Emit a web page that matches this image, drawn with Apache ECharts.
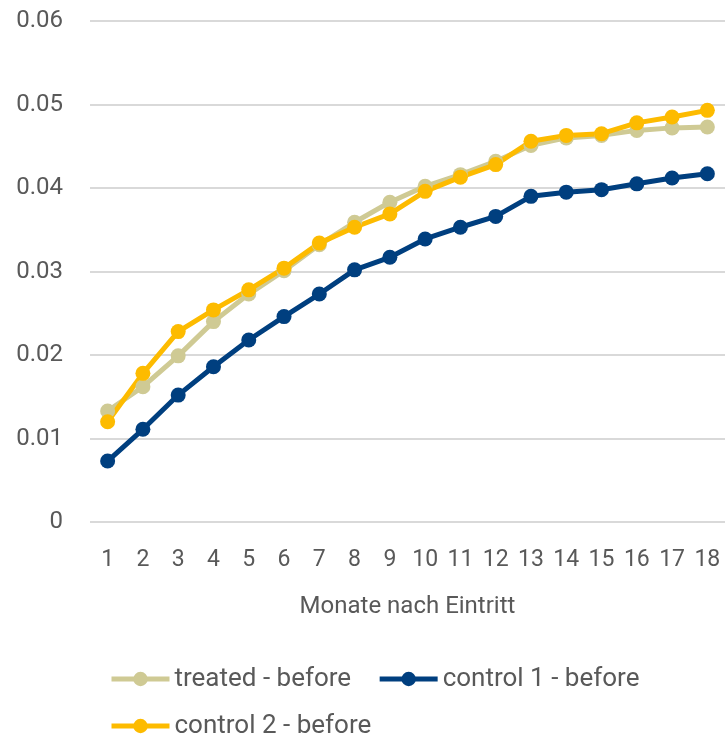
<!DOCTYPE html>
<html><head><meta charset="utf-8">
<script src="https://cdn.jsdelivr.net/npm/echarts@6/dist/echarts.min.js"></script>
<style>html,body{margin:0;padding:0;background:#fff}#c{width:725px;height:739px}</style>
</head><body><div id="c"></div>
<script>
const categories = ['1','2','3','4','5','6','7','8','9','10','11','12','13','14','15','16','17','18'];
const treatedBefore = [0.0133,0.0162,0.0199,0.0240,0.0273,0.0301,0.0332,0.0359,0.0383,0.0402,0.0416,0.0432,0.0451,0.0460,0.0463,0.0469,0.0472,0.0473];
const control1Before = [0.0073,0.0111,0.0152,0.0186,0.0218,0.0246,0.0273,0.0302,0.0317,0.0339,0.0353,0.0366,0.0390,0.0395,0.0398,0.0405,0.0412,0.0417];
const control2Before = [0.0120,0.0178,0.0228,0.0254,0.0278,0.0304,0.0334,0.0353,0.0369,0.0396,0.0413,0.0428,0.0456,0.0463,0.0465,0.0478,0.0485,0.0493];
const seriesNames = ['treated - before','control 1 - before','control 2 - before'];
const colors = ['#CFCA94','#003F7F','#FDBB00'];
const font = 'Roboto';
const txt = '#595959';
function mk(name, data, color){
  return {name, type:'line', data, color, symbol:'circle', symbolSize:15,
    lineStyle:{width:5,color}, itemStyle:{color}, emphasis:{disabled:true}};
}
const chart = echarts.init(document.getElementById('c'));
chart.setOption({
  animation:false,
  grid:{left:90,right:0,top:21,bottom:217,containLabel:false},
  xAxis:{type:'category',data:categories,boundaryGap:true,
    name:'Monate nach Eintritt',nameLocation:'middle',nameGap:73,
    nameTextStyle:{fontFamily:font,fontSize:24,color:txt},
    axisLine:{show:false},axisTick:{show:false},
    axisLabel:{fontFamily:font,fontSize:23,color:txt,margin:27,interval:0}},
  yAxis:{type:'value',min:0,max:0.06,interval:0.01,
    axisLine:{show:false},axisTick:{show:false},
    splitLine:{lineStyle:{color:'#D9D9D9',width:2}},
    axisLabel:{fontFamily:font,fontSize:24,color:txt,margin:27,formatter:v=>String(+v.toFixed(2))}},
  legend:{left:104,top:661,width:600,itemWidth:58,itemHeight:18,itemGap:21,
    lineStyle:{width:5},
    textStyle:{fontFamily:font,fontSize:26,color:txt,lineHeight:21,padding:[0,5,0,0]},
    data:seriesNames},
  series:[mk(seriesNames[0],treatedBefore,colors[0]),mk(seriesNames[1],control1Before,colors[1]),mk(seriesNames[2],control2Before,colors[2])]
});
</script></body></html>
